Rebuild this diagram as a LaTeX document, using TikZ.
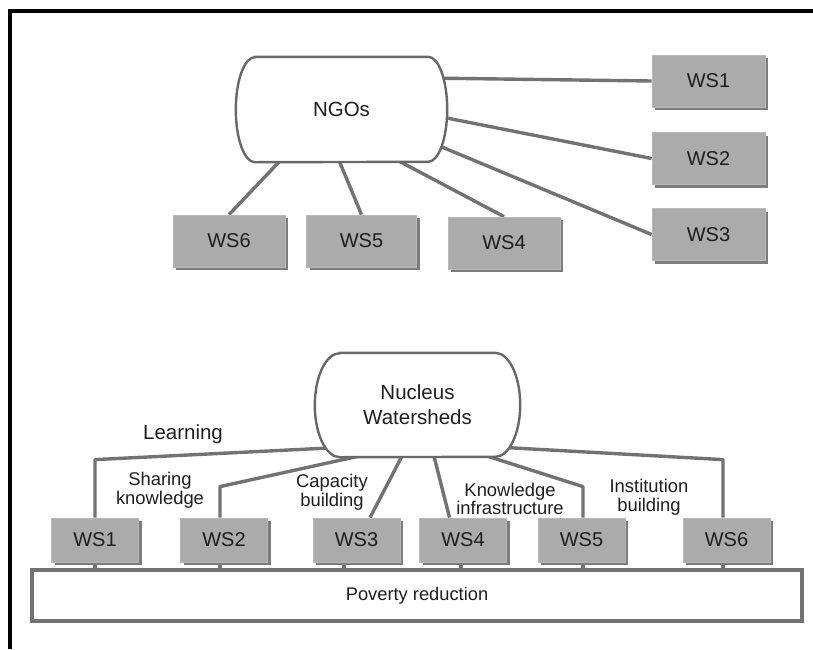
\documentclass[tikz,border=0pt]{standalone}
\usepackage{fontspec}
\setmainfont{Liberation Sans}
\usetikzlibrary{shadows,calc,backgrounds}
\definecolor{boxgray}{HTML}{ABABAB}
\definecolor{shadowgray}{HTML}{7C7C7C}
\definecolor{linegray}{HTML}{727272}
\definecolor{outlinegray}{HTML}{686868}
\definecolor{txt}{HTML}{1E1E1E}
\begin{document}
\begin{tikzpicture}[x=1pt,y=-1pt,
  conn/.style={draw=linegray, line width=3.4pt, line join=round},
  wsbase/.style={fill=boxgray, draw=boxgray!85!white, line width=0.8pt, inner sep=0pt,
    text=txt, font=\fontsize{20}{24}\selectfont,
    drop shadow={shadow xshift=3pt, shadow yshift=-3pt, fill=shadowgray, opacity=1}},
  wsup/.style={wsbase, minimum width=113pt, minimum height=52pt},
  wslow/.style={wsbase, minimum width=87pt, minimum height=44pt},
  cloudtext/.style={rectangle, draw=none, text=txt, align=center, inner sep=0pt,
    font=\fontsize{20.5}{25}\selectfont},
  cloudline/.style={draw=outlinegray, line width=2.4pt, fill=white},
  lbl/.style={text=txt, align=center, inner sep=0pt, font=\fontsize{18.4}{18.5}\selectfont},
  biglbl/.style={text=txt, inner sep=0pt, font=\fontsize{20.5}{24}\selectfont}
]
\useasboundingbox (0,0) rectangle (813,649);

% ---------- nodes ----------
\node[cloudtext, minimum width=211pt, minimum height=105pt] (ngo) at (341.5,109.5) {NGOs};
\node[wsup] (u1) at (708.5,81) {WS1};
\node[wsup] (u2) at (708.5,158.5) {WS2};
\node[wsup] (u3) at (708.5,234.5) {WS3};
\node[wsup, minimum width=112pt] (u4) at (504,243) {WS4};
\node[wsup, minimum width=110pt] (u5) at (361.5,241) {WS5};
\node[wsup, minimum width=112pt] (u6) at (229,241) {WS6};

\node[cloudtext, minimum width=205pt, minimum height=104pt] (nuc) at (417.5,405) {Nucleus\\Watersheds};
\node[draw=linegray, line width=3.4pt, fill=white, minimum width=770pt, minimum height=51pt,
  inner sep=0pt, text=txt, font=\fontsize{18.3}{22}\selectfont,
  drop shadow={shadow xshift=1.5pt, shadow yshift=-1.5pt, fill=shadowgray!70!white, opacity=1}]
  (pov) at (417,595.5) {Poverty reduction};

\node[wslow] (l1) at (95,540) {WS1};
\node[wslow] (l2) at (224,540) {WS2};
\node[wslow] (l3) at (356.5,540) {WS3};
\node[wslow] (l4) at (463,540) {WS4};
\node[wslow] (l5) at (581.5,540) {WS5};
\node[wslow] (l6) at (726.5,540) {WS6};

\node[biglbl] (learn) at (183,434) {Learning};
\node[lbl] (share) at (160,490) {Sharing\\knowledge};
\node[lbl] (cap) at (332,492) {Capacity\\building};
\node[lbl] (know) at (510,499) {Knowledge\\infrastructure};
\node[lbl] (inst) at (649,497) {Institution\\building};

\begin{pgfonlayer}{background}
\fill[white] (0,0) rectangle (813,649);
% frame
\draw[line width=3.5pt, black, line join=miter] (10,649) -- (10,11) -- (813,11);

% upper connectors
\draw[conn] (u1.west) -- ($(ngo.center)+(83.5,-31.5)$);
\draw[conn] (u2.west) -- ($(ngo.center)+(86,4.7)$);
\draw[conn] (u3.west) -- ($(ngo.center)+(82,29.8)$);
\draw[conn] (u4.north) -- ($(ngo.center)+(42.2,43.5)$);
\draw[conn] (u5.north) -- ($(ngo.center)+(-6,42.4)$);
\draw[conn] (u6.north) -- ($(ngo.center)+(-55.2,44.8)$);

% lower connectors
\coordinate (a1) at (l1.north);
\coordinate (a2) at ($(l2.north)+(-4,0)$);
\coordinate (a3) at ($(l3.north)+(13.5,0)$);
\coordinate (a4) at ($(l4.north)+(-13.5,0)$);
\coordinate (a5) at ($(l5.north)+(1.5,0)$);
\coordinate (a6) at ($(l6.north)+(-3.5,0)$);
\draw[conn] (a1) -- ++(0,-58) -- ($(nuc.center)+(-72.5,42.2)$);
\draw[conn] (a2) -- ++(0,-31) -- ($(nuc.center)+(-50.8,49.4)$);
\draw[conn] (a3) -- ($(nuc.center)+(-12.9,46.1)$);
\draw[conn] (a4) -- ($(nuc.center)+(15,45.3)$);
\draw[conn] (a5) -- ++(0,-31) -- ($(nuc.center)+(64.1,49.3)$);
\draw[conn] (a6) -- ++(0,-58) -- ($(nuc.center)+(80.5,42.1)$);

\coordinate (b1) at (l1.south);
\coordinate (b2) at ($(l2.south)+(-4,0)$);
\coordinate (b3) at ($(l3.south)+(-12.5,0)$);
\coordinate (b4) at ($(l4.south)+(-2,0)$);
\coordinate (b5) at ($(l5.south)+(1.5,0)$);
\coordinate (b6) at ($(l6.south)+(-3.5,0)$);
\foreach \b in {b1,b2,b3,b4,b5,b6}{
  \draw[conn] (\b) -- (\b |- pov.north);
}

% cloud outlines (cover the connector ends)
\path[cloudline] ($(ngo.north west)+(19,0)$) -- ($(ngo.north east)+(-19,0)$)
  arc[start angle=90, end angle=-90, x radius=19pt, y radius=52.5pt]
  -- ($(ngo.south west)+(19,0)$)
  arc[start angle=270, end angle=90, x radius=19pt, y radius=52.5pt] -- cycle;
\path[cloudline] ($(nuc.north west)+(25,0)$) -- ($(nuc.north east)+(-25,0)$)
  arc[start angle=90, end angle=-90, x radius=25pt, y radius=52pt]
  -- ($(nuc.south west)+(25,0)$)
  arc[start angle=270, end angle=90, x radius=25pt, y radius=52pt] -- cycle;
\end{pgfonlayer}
\end{tikzpicture}
\end{document}
